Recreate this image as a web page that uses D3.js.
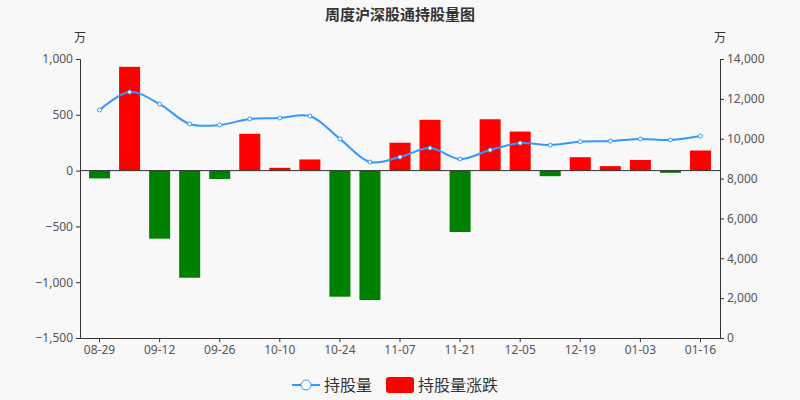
<!DOCTYPE html>
<html><head><meta charset="utf-8">
<script src="https://cdn.jsdelivr.net/npm/d3@7"></script>
<style>body{margin:0;background:#f8f8f8;font-family:"Noto Sans CJK SC","Noto Sans",sans-serif}</style>
</head><body><svg id="c" width="800" height="400"></svg>
<script>
var dates = ["08-29","09-05","09-12","09-19","09-26","10-03","10-10","10-17","10-24","10-31","11-07","11-14","11-21","11-28","12-05","12-12","12-19","12-26","01-03","01-09","01-16"];
var holdings = [11440,12340,11740,10740,10690,10990,11040,11140,9990,8830,9080,9530,8980,9430,9780,9680,9850,9880,9985,9935,10135];
var changes = [-70,930,-610,-960,-75,330,25,100,-1130,-1160,250,455,-550,460,350,-50,120,40,95,-20,180];
var leftTicks = [1000,500,0,-500,-1000,-1500];
var rightTicks = [0,2000,4000,6000,8000,10000,12000,14000];

var svg = d3.select("#c");
svg.append("rect").attr("width",800).attr("height",400).attr("fill","#f8f8f8");
var L = 80, R = 720, T = 59, B = 338;
var x = d3.scaleBand().domain(dates).range([L,R]).padding(0.3);
var yL = d3.scaleLinear().domain([-1500,1000]).range([B,T]);
var yR = d3.scaleLinear().domain([0,14000]).range([B,T]);
var fmt = function(d){ return d3.format(",")(d).replace("-","\u2212"); };

svg.append("text").attr("x",400).attr("y",20).attr("text-anchor","middle")
  .attr("font-size",15).attr("font-weight","bold").attr("fill","#333").text("周度沪深股通持股量图");
svg.append("text").attr("x",80).attr("y",42).attr("text-anchor","middle").attr("font-size",12).attr("fill","#333").text("万");
svg.append("text").attr("x",720).attr("y",42).attr("text-anchor","middle").attr("font-size",12).attr("fill","#333").text("万");

var gl = svg.append("g").attr("transform","translate("+L+",0)")
  .call(d3.axisLeft(yL).tickValues(leftTicks).tickFormat(fmt).tickSize(4));
var gr = svg.append("g").attr("transform","translate("+R+",0)")
  .call(d3.axisRight(yR).tickValues(rightTicks).tickFormat(d3.format(",")).tickSize(4));
var gx = svg.append("g").attr("transform","translate(0,"+B+")")
  .call(d3.axisBottom(x).tickValues(dates.filter(function(d,i){return i%2===0;})).tickSize(4).tickSizeOuter(0));
[gl,gr,gx].forEach(function(g){
  g.selectAll("path,line").attr("stroke","#333");
  g.selectAll("text").attr("fill","#555").attr("font-size",12).attr("font-family","'Noto Sans',sans-serif");
});

svg.append("g").selectAll("rect").data(changes).enter().append("rect")
  .attr("x",function(d,i){return x(dates[i]);})
  .attr("width",x.bandwidth())
  .attr("y",function(d){return yL(Math.max(0,d));})
  .attr("height",function(d){return Math.abs(yL(d)-yL(0));})
  .attr("fill",function(d){return d>=0?"#ff0000":"#008000";});

svg.append("line").attr("x1",L).attr("x2",R).attr("y1",yL(0)).attr("y2",yL(0)).attr("stroke","#333");

var cx = function(i){ return x(dates[i]) + x.bandwidth()/2; };
var line = d3.line().x(function(d,i){return cx(i);}).y(function(d){return yR(d);}).curve(d3.curveCatmullRom.alpha(0.5));
svg.append("path").datum(holdings).attr("d",line).attr("fill","none").attr("stroke","#3399ff").attr("stroke-width",2);
svg.append("g").selectAll("circle").data(holdings).enter().append("circle")
  .attr("cx",function(d,i){return cx(i);}).attr("cy",function(d){return yR(d);})
  .attr("r",2).attr("fill","#fff").attr("stroke","#3399ff");

var lg = svg.append("g");
lg.append("line").attr("x1",292).attr("x2",320).attr("y1",385).attr("y2",385).attr("stroke","#3399ff").attr("stroke-width",2);
lg.append("circle").attr("cx",306).attr("cy",385).attr("r",5).attr("fill","#fff").attr("stroke","#3399ff");
lg.append("text").attr("x",324).attr("y",391).attr("font-size",16).attr("fill","#333").text("持股量");
lg.append("rect").attr("x",386).attr("y",377).attr("width",28).attr("height",16).attr("rx",3).attr("fill","#ff0000");
lg.append("text").attr("x",418).attr("y",391).attr("font-size",16).attr("fill","#333").text("持股量涨跌");
</script></body></html>
